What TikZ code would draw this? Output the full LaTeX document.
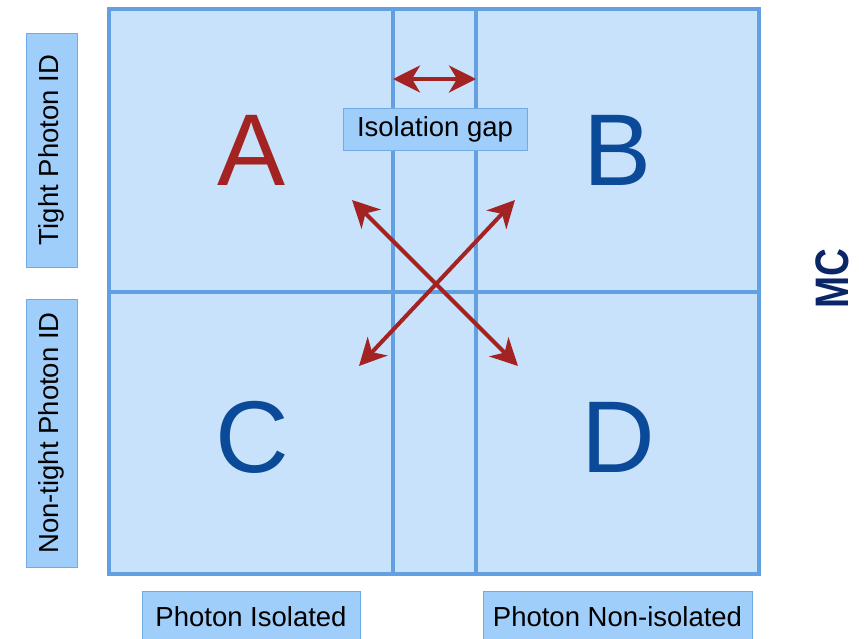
\documentclass[tikz,border=0pt]{standalone}
\usepackage{fontspec}
\setmainfont{Liberation Sans}
\usetikzlibrary{arrows.meta}
\definecolor{gridline}{RGB}{98,160,226}
\definecolor{cellfill}{RGB}{201,226,251}
\definecolor{labfill}{RGB}{160,206,251}
\definecolor{labline}{RGB}{112,171,232}
\definecolor{arrred}{RGB}{163,34,34}
\definecolor{navy}{RGB}{10,74,152}
\definecolor{mcnavy}{RGB}{10,38,102}
\tikzset{
  labbox/.style={draw=labline, line width=1pt, fill=labfill, inner sep=0pt, font=\fontsize{27.5}{30}\selectfont, text=black},
  bigletter/.style={font=\fontsize{102}{104}\selectfont, inner sep=0pt},
  redarrow/.style={draw=arrred, line width=4pt, {Stealth[length=27pt,width=27pt,inset=8pt]}-{Stealth[length=27pt,width=27pt,inset=8pt]}},
  gridl/.style={draw=gridline, line width=4pt}
}
\begin{document}
\begin{tikzpicture}[x=1pt,y=-1pt]
\useasboundingbox (0,0) rectangle (866,638);
% grid coordinates
\coordinate (tl) at (109,9);
\coordinate (br) at (759,574);
\coordinate (v1t) at (393,9);
\coordinate (v1b) at (393,574);
\coordinate (v2t) at (476,9);
\coordinate (v2b) at (476,574);
\coordinate (hl) at (109,292);
\coordinate (hr) at (759,292);
\fill[cellfill] (tl) rectangle (br);
\draw[gridl] (v1t) -- (v1b);
\draw[gridl] (v2t) -- (v2b);
\draw[gridl] (hl) -- (hr);
\draw[gridl] (tl) rectangle (br);
% letters
\node[bigletter, text=arrred] (A) at (252,150) {A};
\node[bigletter, text=navy] (B) at (618,150) {B};
\node[bigletter, text=navy] (C) at (252,437) {C};
\node[bigletter, text=navy] (D) at (618,437) {D};
% isolation gap
\coordinate (g1) at (393,79);
\coordinate (g2) at (476,79);
\draw[redarrow] (g1) -- (g2);
\node[labbox, minimum width=184pt, minimum height=42pt] (gap) at (435,129) {Isolation gap};
% cross arrows
\coordinate (ul) at (352,200);
\coordinate (ur) at (515,200);
\coordinate (ll) at (359,366);
\coordinate (lr) at (518,366);
\draw[redarrow] (ul) -- (lr);
\draw[redarrow] (ur) -- (ll);
% side labels
\node[labbox, rotate=90, minimum width=234pt, minimum height=51pt] (tight) at (51.5,150) {Tight Photon ID};
\node[labbox, rotate=90, minimum width=268pt, minimum height=51pt] (nontight) at (51.5,433) {Non-tight Photon ID};
\node[labbox, minimum width=218pt, minimum height=52pt] (iso) at (251,617) {Photon Isolated};
\node[labbox, minimum width=269pt, minimum height=52pt] (noniso) at (617.5,617) {Photon Non-isolated};
\node[rotate=90, xscale=0.82, text=mcnavy, font=\bfseries\fontsize{47}{49}\selectfont, inner sep=0pt] (mc) at (832,279) {MC};
\end{tikzpicture}
\end{document}
